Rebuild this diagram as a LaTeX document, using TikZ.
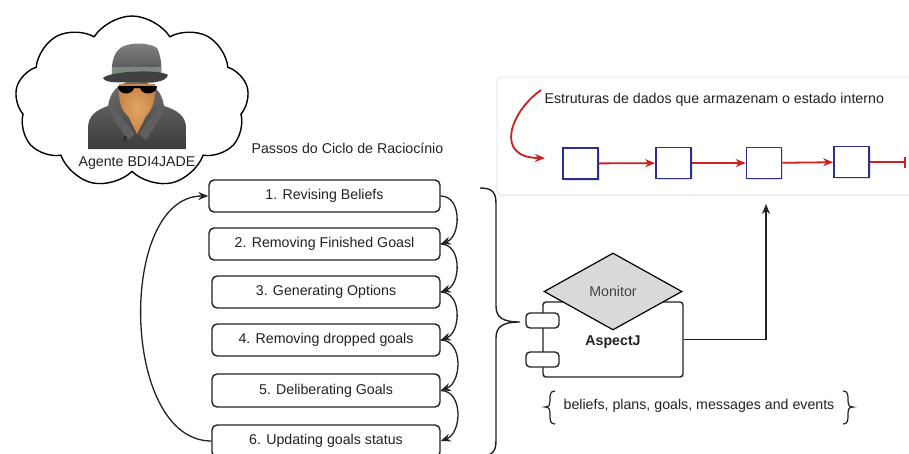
\documentclass[tikz,border=0pt]{standalone}
\usepackage{fontspec}
\setmainfont{Liberation Sans}
\usetikzlibrary{arrows.meta,shapes.geometric,shapes.symbols,shadows}
\definecolor{ink}{HTML}{222222}
\definecolor{cellblue}{HTML}{2B2E96}
\definecolor{linkred}{HTML}{CC2020}
\definecolor{monitorgray}{HTML}{D9D9D9}
\definecolor{coatdark}{HTML}{3C3C3C}
\definecolor{coatlight}{HTML}{707070}
\definecolor{skin}{HTML}{C98446}
\definecolor{skinlight}{HTML}{E2A564}
\definecolor{hatgray}{HTML}{4E4E4E}
\definecolor{hatband}{HTML}{7D897E}
\begin{document}
\begin{tikzpicture}[x=1pt,y=-1pt,
  font=\fontsize{14.2}{17}\selectfont, text=ink,
  stepbox/.style={draw=ink, line width=1.4pt, rounded corners=5pt, fill=white,
    inner sep=0pt, minimum height=32pt},
  flow/.style={draw=ink, line width=1.3pt, -{Stealth[length=10pt,width=8pt]}},
  cell/.style={draw=cellblue, line width=1.7pt, fill=white, minimum width=35pt,
    minimum height=31pt, inner sep=0pt,
    drop shadow={opacity=0.25, shadow xshift=1.5pt, shadow yshift=-1.5pt}},
  redlink/.style={draw=linkred, line width=1.8pt, -{Stealth[length=10pt,width=8pt]}},
  tab/.style={draw=ink, line width=1.4pt, rounded corners=4pt, fill=white,
    minimum width=33pt, minimum height=15pt, inner sep=0pt},
  bracepath/.style={draw=ink, line width=1.2pt}]
\useasboundingbox (0,0) rectangle (909,453);

% ---- agent cloud ----
\node[cloud, draw=black, line width=1.4pt, cloud puffs=9, cloud puff arc=115,
  aspect=1.4, minimum width=234pt, minimum height=172pt, inner sep=0pt]
  (agentcloud) at (132,102) {};

% spy figure: coat
\shade[top color=coatlight, bottom color=coatdark]
  (88,149) -- (88,128) .. controls (88,116) and (96,110) .. (108,106)
  .. controls (110,92) and (118,82) .. (136,80)
  .. controls (154,82) and (162,92) .. (164,106)
  .. controls (177,110) and (186,116) .. (186,128) -- (186,149) -- cycle;
% face and neck
\shade[inner color=skinlight, outer color=skin]
  (119,84) -- (155,84) .. controls (156,100) and (152,110) .. (146,116)
  -- (137,134) -- (128,116) .. controls (121,110) and (118,100) .. (119,84) -- cycle;
% lapels of the hood
\fill[coatlight!85!black] (112,104) .. controls (118,112) and (126,122) .. (135,134)
  -- (128,140) .. controls (120,128) and (112,118) .. (108,106) -- cycle;
\fill[coatlight!85!black] (161,104) .. controls (155,112) and (147,122) .. (139,134)
  -- (146,140) .. controls (154,128) and (162,118) .. (165,106) -- cycle;
\fill[black!80] (123,136) rectangle (127,141);
% glasses
\fill[black] (118,86) .. controls (118,95) and (132,96) .. (134,88) -- (140,88)
  .. controls (142,96) and (157,95) .. (157,86) -- cycle;
% hat
\shade[top color=hatgray!70, bottom color=hatgray]
  (112,76) .. controls (111,62) and (114,50) .. (124,46)
  .. controls (134,42) and (150,43) .. (157,48)
  .. controls (161,56) and (162,66) .. (161,76) -- cycle;
\fill[hatband] (112,67) -- (161,67) -- (161,75) -- (112,75) -- cycle;
\fill[black!75] (103,78) .. controls (110,71) and (160,69) .. (168,75)
  .. controls (166,82) and (152,84) .. (136,82)
  .. controls (120,82) and (106,84) .. (103,78) -- cycle;

\node (agentname) at (137,163) {Agente BDI4JADE};
\node[anchor=west] (cyclelabel) at (248,148) {Passos do Ciclo de Raciocínio};

% ---- reasoning cycle steps ----
\node[stepbox, minimum width=231pt] (s1) at (324.5,196) {1. Revising Beliefs};
\node[stepbox, minimum width=231pt] (s2) at (324.5,244) {2. Removing Finished Goasl};
\node[stepbox, minimum width=228pt] (s3) at (326,292) {3. Generating Options};
\node[stepbox, minimum width=228pt] (s4) at (326,340) {4. Removing dropped goals};
\node[stepbox, minimum width=228pt, minimum height=33pt] (s5) at (326,390.5) {5. Deliberating Goals};
\node[stepbox, minimum width=228pt] (s6) at (326,441) {6. Updating goals status};

\foreach \a/\b in {s1/s2,s2/s3,s3/s4,s4/s5,s5/s6}
  \draw[flow] (\a.east) to[out=0,in=20,looseness=1.15] (\b.east);
\draw[flow] (s6.west) to[out=180,in=180,looseness=0.95] (s1.west);

% brace grouping the steps
\draw[bracepath, line width=1.4pt]
  (480,188) .. controls (493,188) and (496,193) .. (496,204) -- (496,306)
  .. controls (496,317) and (502,322) .. (520,322)
  .. controls (502,322) and (496,327) .. (496,338) -- (496,440)
  .. controls (496,451) and (493,456) .. (480,456);

% ---- AspectJ component with monitor ----
\node[draw=ink, line width=1.4pt, rounded corners=3pt, minimum width=140pt,
  minimum height=75pt, inner sep=0pt, font=\fontsize{14.2}{17}\selectfont\bfseries,
  text depth=0pt] (aspectj) at (613,339.5) {\raisebox{-2pt}{AspectJ}};
\node[tab] (tab1) at (542.5,320.5) {};
\node[tab] (tab2) at (542.5,359.5) {};
\node[diamond, draw=black, line width=1.2pt, fill=monitorgray, inner sep=0pt,
  minimum width=138pt, minimum height=77pt, text=ink!85] (monitor) at (613,291.5) {Monitor};

% ---- internal state structures ----
\node[draw=black!12, line width=0.8pt, rounded corners=4pt, fill=white,
  minimum width=440pt, minimum height=118pt,
  drop shadow={opacity=0.12, shadow xshift=1pt, shadow yshift=-1pt}]
  (store) at (717,136) {};
\node[anchor=west] (storetitle) at (541,100) {Estruturas de dados que armazenam o estado interno};
\coordinate (curlstart) at (541,90);
\coordinate (curlend) at (545,158);
\draw[redlink] (curlstart) .. controls (510,112) and (494,158) .. (curlend);

\node[cell] (c1) at (580.5,163.5) {};
\node[cell] (c2) at (673.5,163) {};
\node[cell] (c3) at (764,163) {};
\node[cell] (c4) at (851.5,162) {};
\draw[redlink] (c1) -- (c2);
\draw[redlink] (c2) -- (c3);
\draw[redlink] (c3) -- (c4);
\coordinate (listend) at (906,162);
\draw[draw=linkred, line width=1.8pt, -{Bar[width=11pt,line width=1.8pt]}] (c4) -- (listend);

% monitor output into the structures
\coordinate (storein) at (766,204);
\draw[flow] (aspectj.east) -| (storein);

% ---- monitored elements ----
\node (facts) at (699,406) {beliefs, plans, goals, messages and events};
\draw[bracepath] (555,391) .. controls (550,391) and (550,395) .. (550,400)
  .. controls (550,405) and (549,407) .. (545,407)
  .. controls (549,407) and (550,409) .. (550,414)
  .. controls (550,420) and (550,424) .. (555,424);
\draw[bracepath] (843,391) .. controls (848,391) and (848,395) .. (848,400)
  .. controls (848,405) and (849,407) .. (853,407)
  .. controls (849,407) and (848,409) .. (848,414)
  .. controls (848,420) and (848,424) .. (843,424);
\end{tikzpicture}
\end{document}
